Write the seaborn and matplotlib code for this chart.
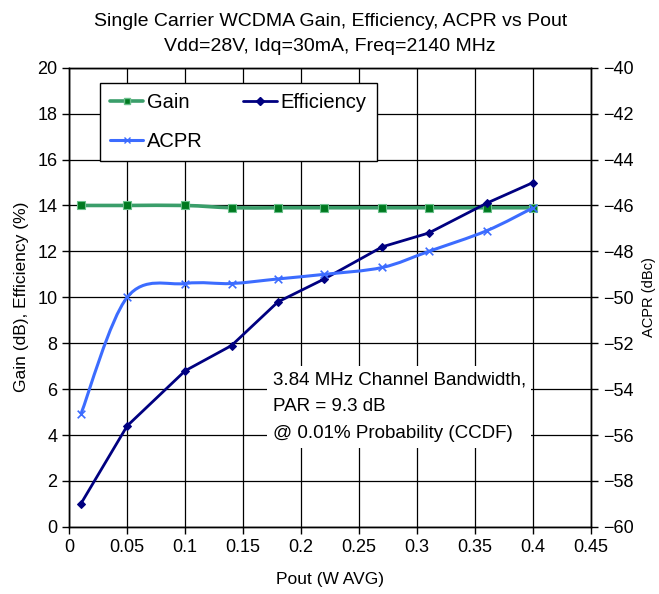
import numpy as np
import matplotlib
matplotlib.use("Agg")
import matplotlib.pyplot as plt
from matplotlib.path import Path
from matplotlib.patches import PathPatch
from matplotlib.lines import Line2D
import seaborn as sns

# data
pout = [0.01, 0.05, 0.10, 0.14, 0.18, 0.22, 0.27, 0.31, 0.36, 0.40]
gain = [14.0, 14.0, 14.0, 13.9, 13.9, 13.9, 13.9, 13.9, 13.9, 13.9]
efficiency = [1.0, 4.4, 6.8, 7.9, 9.8, 10.8, 12.2, 12.8, 14.1, 15.0]
acpr = [-55.1, -50.0, -49.4, -49.4, -49.2, -49.0, -48.7, -48.0, -47.1, -46.1]

GAIN_LINE = "#3a9e6a"
GAIN_MARK = "#007a20"
EFF_COLOR = "#000080"
ACPR_COLOR = "#3c6cff"


def smooth_path(x, y):
    """
    Excel style smoothed line through the points (cubic Bezier segments).
    """
    pts = np.column_stack([x, y])
    verts = [pts[0]]
    codes = [Path.MOVETO]
    n = len(pts)
    for i in range(n - 1):
        p0 = pts[i - 1] if i > 0 else pts[i]
        p1 = pts[i]
        p2 = pts[i + 1]
        p3 = pts[i + 2] if i + 2 < n else pts[i + 1]
        c1 = p1 + (p2 - p0) / 6
        c2 = p2 - (p3 - p1) / 6
        verts += [c1, c2, p2]
        codes += [Path.CURVE4] * 3
    return Path(verts, codes)


sns.set_style("white")
plt.rcParams["font.family"] = ["Liberation Sans", "DejaVu Sans"]
plt.rcParams["text.color"] = "black"
plt.rcParams["axes.labelcolor"] = "black"

fig = plt.figure(figsize=(6.59, 5.94), dpi=100)
ax = fig.add_axes([0.105, 0.113, 0.792, 0.773])
ax2 = ax.twinx()

# gain (smoothed) on left axis
ax.add_patch(PathPatch(smooth_path(pout, gain), facecolor="none",
                       edgecolor=GAIN_LINE, lw=2.6, zorder=3))
sns.scatterplot(x=pout, y=gain, ax=ax, marker="s", s=28, color=GAIN_MARK,
                edgecolor="#6cc08c", linewidth=0.8, zorder=4)

# efficiency (straight segments)
sns.lineplot(x=pout, y=efficiency, ax=ax, color=EFF_COLOR, lw=2,
             marker="D", markersize=4, markeredgecolor=EFF_COLOR, zorder=5)

# ACPR on right axis
ax2.add_patch(PathPatch(smooth_path(pout, acpr), facecolor="none",
                        edgecolor=ACPR_COLOR, lw=2.2, zorder=3))
sns.scatterplot(x=pout, y=acpr, ax=ax2, marker="x", s=30, color=ACPR_COLOR,
                linewidth=1.2, zorder=4)

ax.set_xlim(0, 0.45)
ax.set_ylim(0, 20)
ax2.set_ylim(-60, -40)
ax.set_xticks(np.arange(0, 0.451, 0.05))
ax.set_xticklabels(["0", "0.05", "0.1", "0.15", "0.2", "0.25", "0.3",
                    "0.35", "0.4", "0.45"])
ax.set_yticks(np.arange(0, 21, 2))
ax2.set_yticks(np.arange(-60, -39, 2))

ax.grid(True, color="black", lw=0.9)
for a in (ax, ax2):
    for s in a.spines.values():
        s.set_color("black")
        s.set_linewidth(1)
    a.tick_params(labelsize=13, length=5, width=1, colors="black",
                  direction="out")
ax.tick_params(axis="both", which="both", left=True, bottom=True)
ax2.tick_params(axis="y", right=True)

ax.set_xlabel("Pout (W AVG)", fontsize=12.5, labelpad=12)
ax.set_ylabel("Gain (dB), Efficiency (%)", fontsize=12.5, labelpad=6)
ax2.set_ylabel("ACPR (dBc)", fontsize=10.5, labelpad=6)
ax.set_title("Single Carrier WCDMA Gain, Efficiency, ACPR vs Pout\n"
             "Vdd=28V, Idq=30mA, Freq=2140 MHz", fontsize=14,
             linespacing=1.6, pad=12, color="black")

handles = [
    Line2D([], [], color=GAIN_LINE, lw=2.6, marker="s", markersize=5,
           markerfacecolor=GAIN_MARK, markeredgecolor="#6cc08c"),
    Line2D([], [], color=ACPR_COLOR, lw=2.2, marker="x", markersize=5,
           markeredgecolor=ACPR_COLOR),
    Line2D([], [], color=EFF_COLOR, lw=2, marker="D", markersize=4),
]
leg = ax2.legend(handles, ["Gain", "ACPR", "Efficiency"], ncol=2,
                 loc="upper left", bbox_to_anchor=(0.059, 0.967),
                 borderaxespad=0, fontsize=14.5, frameon=True,
                 fancybox=False, edgecolor="black", framealpha=1,
                 handlelength=1.65, handletextpad=0.2, columnspacing=2.0,
                 labelspacing=1.0, borderpad=0.5)
leg.get_frame().set_linewidth(1)
for t in leg.get_texts():
    t.set_color("black")

ax2.text(0.39, 0.338, "3.84 MHz Channel Bandwidth,\nPAR = 9.3 dB\n"
         "@ 0.01% Probability (CCDF)", transform=ax2.transAxes,
         fontsize=13.5, linespacing=1.75, va="top", ha="left", color="black",
         bbox=dict(facecolor="white", edgecolor="none", pad=4), zorder=6)

fig.savefig("out.png", dpi=100)
